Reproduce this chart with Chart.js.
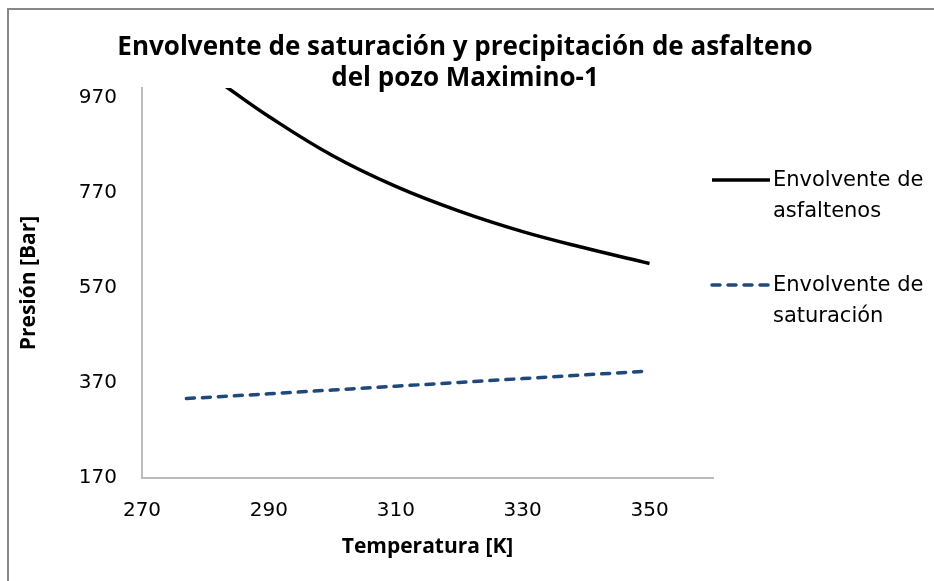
<!DOCTYPE html>
<html>
<head>
<meta charset="utf-8">
<script src="https://cdn.jsdelivr.net/npm/chart.js@4.4.1/dist/chart.umd.min.js"></script>
<style>
  html, body { margin: 0; padding: 0; background: #fff; }
  #wrap { width: 934px; height: 581px; position: relative; }
</style>
</head>
<body>
<div id="wrap"><canvas id="myChart" width="934" height="581"></canvas></div>
<script>
// temperatura [K] y presion [Bar]
const tempAsf = [283, 290, 300, 310, 320, 330, 340, 350];
const presAsf = [995, 930, 848, 783, 731, 688, 653, 621];
const tempSat = [277, 290, 300, 310, 320, 330, 340, 350];
const presSat = [337, 347, 355, 363, 371, 379, 387, 395];
const xTicks = [270, 290, 310, 330, 350];
const yTicks = [170, 370, 570, 770, 970];
const titleLines = ['Envolvente de saturación y precipitación de asfalteno', 'del pozo Maximino-1'];
const names = [['Envolvente de', 'asfaltenos'], ['Envolvente de', 'saturación']];

function toPoints(xs, ys) {
    return xs.map((x, i) => ({ x: x, y: ys[i] }));
}

// marco gris arriba e izquierda + titulo centrado en todo el ancho
const frame = {
    id: 'frame',
    beforeDraw(chart) {
        const ctx = chart.ctx;
        ctx.save();
        ctx.strokeStyle = '#878787';
        ctx.lineWidth = 2;
        ctx.beginPath();
        ctx.moveTo(8, 581);
        ctx.lineTo(8, 9);
        ctx.lineTo(934, 9);
        ctx.stroke();
        ctx.fillStyle = '#000';
        ctx.font = 'bold 26px "Open Sans"';
        ctx.textAlign = 'center';
        ctx.textBaseline = 'middle';
        titleLines.forEach((t, i) => ctx.fillText(t, 465, 48 + i * 31));
        ctx.restore();
    }
};

// leyenda a la derecha con texto en dos lineas
const sideLegend = {
    id: 'sideLegend',
    afterDraw(chart) {
        const ctx = chart.ctx;
        const rows = [180, 285];
        ctx.save();
        chart.data.datasets.forEach((ds, i) => {
            const y = rows[i];
            ctx.strokeStyle = ds.borderColor;
            ctx.lineWidth = ds.borderWidth;
            ctx.lineCap = ds.borderCapStyle || 'butt';
            ctx.setLineDash(ds.borderDash || []);
            ctx.beginPath();
            ctx.moveTo(712, y);
            ctx.lineTo(770, y);
            ctx.stroke();
            ctx.setLineDash([]);
            ctx.fillStyle = '#000';
            ctx.font = '21px "DejaVu Sans"';
            ctx.textBaseline = 'middle';
            ctx.textAlign = 'left';
            names[i].forEach((t, j) => ctx.fillText(t, 773, y + 1 + j * 31));
        });
        ctx.restore();
    }
};

const data = {
    datasets: [{
        label: 'Envolvente de asfaltenos',
        data: toPoints(tempAsf, presAsf),
        borderColor: '#000000',
        backgroundColor: '#000000',
        borderWidth: 3.5,
        showLine: true,
        pointRadius: 0,
        tension: 0.4
    }, {
        label: 'Envolvente de saturación',
        data: toPoints(tempSat, presSat),
        borderColor: '#1f497d',
        backgroundColor: '#1f497d',
        borderWidth: 3.5,
        borderDash: [8, 8],
        borderCapStyle: 'round',
        showLine: true,
        pointRadius: 0,
        tension: 0
    }]
};

const config = {
    type: 'scatter',
    data: data,
    plugins: [frame, sideLegend],
    options: {
        responsive: false,
        animation: false,
        layout: { padding: { left: 0, right: 221, top: 88, bottom: 0 } },
        plugins: {
            legend: { display: false },
            tooltip: { enabled: false },
            title: { display: false }
        },
        scales: {
            x: {
                type: 'linear',
                min: 270,
                max: 360,
                afterBuildTicks: (s) => { s.ticks = xTicks.map(v => ({ value: v })); },
                afterFit: (s) => { s.height = 103; },
                grid: { display: false, drawTicks: false, tickLength: 0 },
                border: { display: true, color: '#bdbdbd', width: 2 },
                ticks: { color: '#000', font: { family: '"DejaVu Sans"', size: 20 }, padding: 21, maxRotation: 0 },
                title: {
                    display: true,
                    text: 'Temperatura [K]',
                    color: '#000',
                    font: { family: '"Open Sans"', size: 21, weight: 'bold', lineHeight: 1.2 },
                    padding: { top: 0, bottom: 21 }
                }
            },
            y: {
                type: 'linear',
                min: 170,
                max: 990,
                afterBuildTicks: (s) => { s.ticks = yTicks.map(v => ({ value: v })); },
                afterFit: (s) => { s.width = 142; },
                grid: { display: false, drawTicks: false, tickLength: 0 },
                border: { display: true, color: '#bdbdbd', width: 2 },
                ticks: { color: '#000', font: { family: '"DejaVu Sans"', size: 20 }, padding: 25 },
                title: {
                    display: true,
                    text: 'Presión [Bar]',
                    color: '#000',
                    font: { family: '"Open Sans"', size: 21, weight: 'bold', lineHeight: 1.2 },
                    padding: { top: 16, bottom: 0 }
                }
            }
        }
    }
};

const myChart = new Chart(document.getElementById('myChart'), config);
</script>
</body>
</html>
